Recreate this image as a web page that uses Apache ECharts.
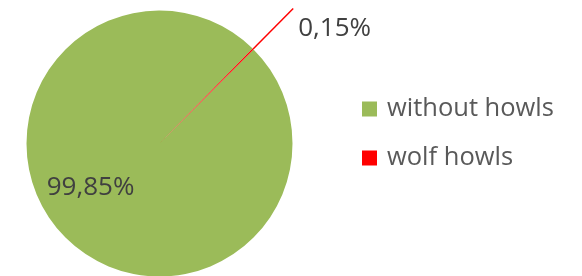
<!DOCTYPE html>
<html><head><meta charset="utf-8">
<script src="https://cdn.jsdelivr.net/npm/echarts@6/dist/echarts.min.js"></script>
<style>html,body{margin:0;padding:0;background:#fff}#c{width:582px;height:276px}</style>
</head><body><div id="c"></div>
<script>
const categories = ['without howls', 'wolf howls'];
const values = [99.85, 0.15];
const colors = ['#9BBB59', '#FF0000'];

const fmt = p => p.value.toFixed(2).replace('.', ',') + '%';
const chart = echarts.init(document.getElementById('c'), null, {renderer: 'canvas'});
chart.setOption({
  animation: false,
  textStyle: {fontFamily: 'Open Sans'},
  legend: {
    orient: 'vertical', left: 357, top: 91,
    itemWidth: 15, itemHeight: 15, itemGap: 23,
    icon: 'rect',
    textStyle: {fontFamily: 'Open Sans', fontSize: 25.5, color: '#595959', padding: [0, 0, 0, 5]},
    data: categories
  },
  series: [{
    type: 'pie',
    center: [159.5, 143.5],
    radius: 133,
    startAngle: 45,
    clockwise: true,
    avoidLabelOverlap: false,
    label: {fontFamily: 'Open Sans', fontSize: 26, color: '#404040', formatter: fmt},
    labelLine: {show: true, length: 57, length2: 0, lineStyle: {width: 1.5}},
    labelLayout: p => p.dataIndex === 0 ? {dx: -20, dy: -5} : {},
    data: [
      {name: categories[0], value: values[0], itemStyle: {color: colors[0]},
       label: {position: 'inside'}},
      {name: categories[1], value: values[1], itemStyle: {color: colors[1]},
       label: {position: 'outside', lineHeight: 40,
               formatter: p => '\n' + fmt(p)}}
    ]
  }],
});
</script></body></html>
